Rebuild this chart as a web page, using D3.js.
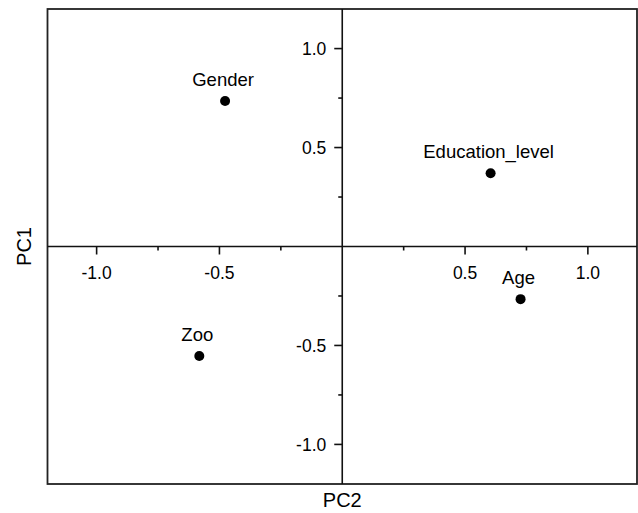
<!DOCTYPE html>
<html><head><meta charset="utf-8">
<script src="https://cdn.jsdelivr.net/npm/d3@7"></script>
<style>
html,body{margin:0;padding:0;background:#fff;}
svg{display:block;font-family:"Liberation Sans",Arial,sans-serif;}
</style></head>
<body><svg id="c" width="638" height="513"></svg>
<script>
const labels = ["Gender","Education_level","Age","Zoo"];
const pc2 = [-0.477, 0.604, 0.726, -0.582];
const pc1 = [0.735, 0.370, -0.266, -0.553];
const majorTicks = [-1.0, -0.5, 0.5, 1.0];
const minorTicks = [-0.75, -0.25, 0.25, 0.75];

const W = 638, H = 513;
const m = {l:47.5, t:9, r:1, b:29};
const svg = d3.select("#c");
const x = d3.scaleLinear().domain([-1.2, 1.2]).range([m.l, W - m.r]);
const y = d3.scaleLinear().domain([-1.2, 1.2]).range([H - m.b, m.t]);

// frame
svg.append("rect").attr("x", x(-1.2)).attr("y", y(1.2))
  .attr("width", x(1.2) - x(-1.2)).attr("height", y(-1.2) - y(1.2))
  .attr("fill", "none").attr("stroke", "#222").attr("stroke-width", 1.8);

// x axis through origin
const gx = svg.append("g").attr("transform", `translate(0,${y(0)})`);
gx.append("line").attr("x1", x(-1.2)).attr("x2", x(1.2)).attr("stroke", "#111").attr("stroke-width", 1.6);
gx.selectAll(".maj").data(majorTicks).join("line")
  .attr("x1", d => x(d)).attr("x2", d => x(d)).attr("y1", 0).attr("y2", 8)
  .attr("stroke", "#111").attr("stroke-width", 1.6);
gx.selectAll(".min").data(minorTicks).join("line")
  .attr("x1", d => x(d)).attr("x2", d => x(d)).attr("y1", 0).attr("y2", 4)
  .attr("stroke", "#111").attr("stroke-width", 1.6);
gx.selectAll("text").data(majorTicks).join("text")
  .attr("x", d => x(d)).attr("y", 32).attr("text-anchor", "middle")
  .attr("font-size", 17.5).attr("fill", "#000").text(d => d3.format(".1f")(d).replace("−", "-"));

// y axis through origin
const gy = svg.append("g").attr("transform", `translate(${x(0)},0)`);
gy.append("line").attr("y1", y(-1.2)).attr("y2", y(1.2)).attr("stroke", "#111").attr("stroke-width", 1.6);
gy.selectAll(".maj").data(majorTicks).join("line")
  .attr("y1", d => y(d)).attr("y2", d => y(d)).attr("x1", 0).attr("x2", -8)
  .attr("stroke", "#111").attr("stroke-width", 1.6);
gy.selectAll(".min").data(minorTicks).join("line")
  .attr("y1", d => y(d)).attr("y2", d => y(d)).attr("x1", 0).attr("x2", -4)
  .attr("stroke", "#111").attr("stroke-width", 1.6);
gy.selectAll("text").data(majorTicks).join("text")
  .attr("x", -16).attr("y", d => y(d)).attr("dy", "0.36em").attr("text-anchor", "end")
  .attr("font-size", 17.5).attr("fill", "#000").text(d => d3.format(".1f")(d).replace("−", "-"));

// points
const pts = labels.map((l, i) => ({l, x: pc2[i], y: pc1[i]}));
svg.selectAll("circle.p").data(pts).join("circle")
  .attr("cx", d => x(d.x)).attr("cy", d => y(d.y)).attr("r", 5).attr("fill", "#000");
svg.selectAll("text.pl").data(pts).join("text")
  .attr("x", d => x(d.x) - 2).attr("y", d => y(d.y) - 15).attr("text-anchor", "middle")
  .attr("font-size", 18.5).attr("fill", "#000").text(d => d.l);

// axis titles
svg.append("text").attr("x", x(0)).attr("y", 507).attr("text-anchor", "middle")
  .attr("font-size", 20).attr("fill", "#000").text("PC2");
svg.append("text").attr("transform", `translate(31,${y(0)}) rotate(-90)`).attr("text-anchor", "middle")
  .attr("font-size", 20).attr("fill", "#000").text("PC1");
</script></body></html>
